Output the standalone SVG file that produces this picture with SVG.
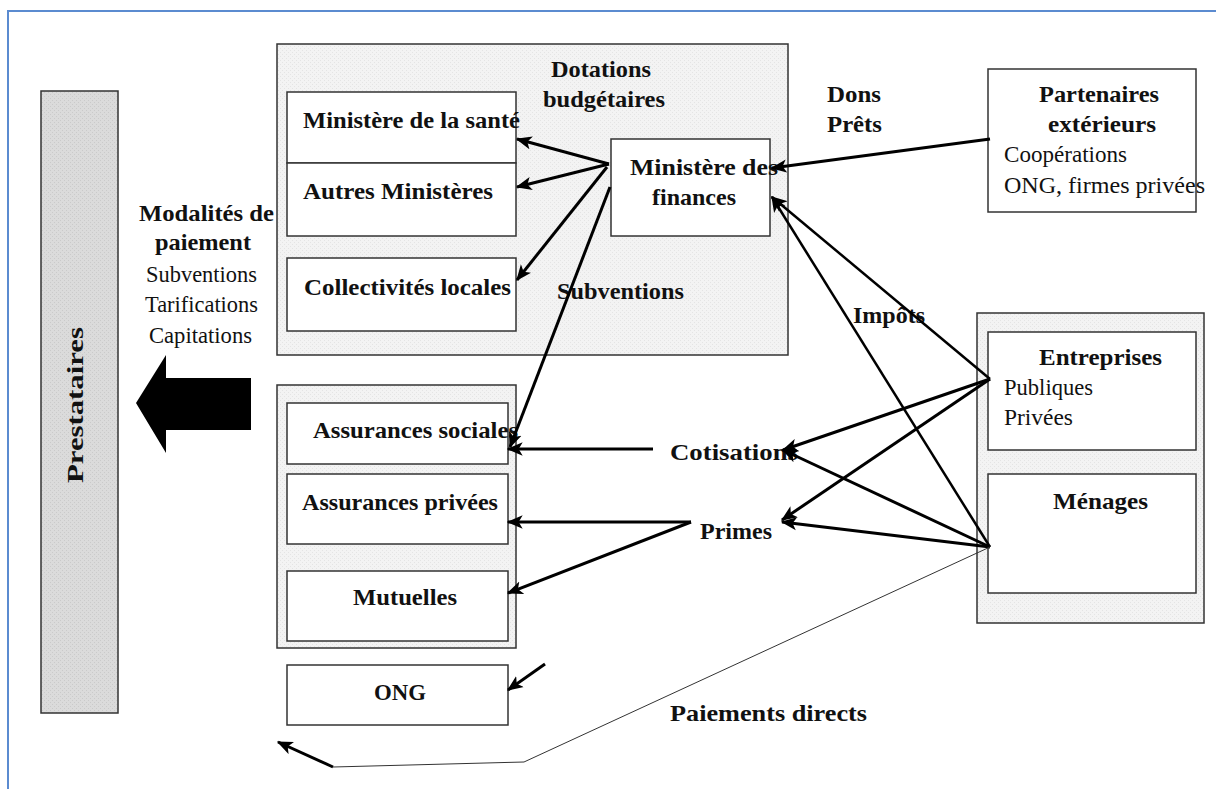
<svg xmlns="http://www.w3.org/2000/svg" width="1216" height="789" viewBox="0 0 1216 789">
<defs>
<marker id="ah" viewBox="0 0 12 10" refX="11" refY="5" markerWidth="16" markerHeight="14" markerUnits="userSpaceOnUse" orient="auto">
<path d="M0,0 L12,5 L0,10 L3,5 z" fill="#000"/>
</marker>
<pattern id="dots" width="4" height="4" patternUnits="userSpaceOnUse">
<rect width="4" height="4" fill="#f3f3f3"/>
<rect width="1" height="1" fill="#e4e4e4"/>
<rect x="2" y="2" width="1" height="1" fill="#e4e4e4"/>
</pattern>
<pattern id="dots2" width="4" height="4" patternUnits="userSpaceOnUse">
<rect width="4" height="4" fill="#dbdbdb"/>
<rect width="1" height="1" fill="#cacaca"/>
<rect x="2" y="2" width="1" height="1" fill="#cacaca"/>
</pattern>
</defs>
<style>
.grp{fill:url(#dots);stroke:#333;stroke-width:1.5}
.box{fill:#fff;stroke:#333;stroke-width:1.5}
.b{font-family:"Liberation Serif","Times New Roman",serif;font-weight:bold;font-size:23px;fill:#111}
.r{font-family:"Liberation Serif","Times New Roman",serif;font-size:23px;fill:#111}
.a{stroke:#000;stroke-width:3;fill:none;marker-end:url(#ah)}
.a2{stroke:#000;stroke-width:2.5;fill:none;marker-end:url(#ah)}
.thin{stroke:#333;stroke-width:1;fill:none}
</style>
<rect width="1216" height="789" fill="#fff"/>
<path d="M8,789 V11 H1216" fill="none" stroke="#5b8bd0" stroke-width="2"/>

<g id="prestataires">
<rect x="41" y="91" width="77" height="622" fill="url(#dots2)" stroke="#333" stroke-width="1.5"/>
<text class="b" transform="translate(83,483) rotate(-90)" font-size="27" textLength="156" lengthAdjust="spacingAndGlyphs">Prestataires</text>
</g>

<g id="big-arrow">
<polygon points="251,378 166,378 166,355 136,403 166,453 166,430 251,430" fill="#000"/>
</g>

<g id="modalites">
<text class="b" x="139" y="221" textLength="135" lengthAdjust="spacingAndGlyphs">Modalités de</text>
<text class="b" x="155" y="250" textLength="96" lengthAdjust="spacingAndGlyphs">paiement</text>
<text class="r" x="146" y="282" textLength="111" lengthAdjust="spacingAndGlyphs">Subventions</text>
<text class="r" x="145" y="312" textLength="113" lengthAdjust="spacingAndGlyphs">Tarifications</text>
<text class="r" x="149" y="343" textLength="103" lengthAdjust="spacingAndGlyphs">Capitations</text>
</g>

<g id="etat">
<rect class="grp" x="277" y="44" width="511" height="311"/>
<text class="b" x="551" y="77" textLength="100" lengthAdjust="spacingAndGlyphs">Dotations</text>
<text class="b" x="543" y="107" textLength="122" lengthAdjust="spacingAndGlyphs">budgétaires</text>
</g>
<g id="ministere-sante">
<rect class="box" x="287" y="92" width="229" height="71"/>
<text class="b" x="303" y="128" textLength="217" lengthAdjust="spacingAndGlyphs">Ministère de la santé</text>
</g>
<g id="autres-ministeres">
<rect class="box" x="287" y="163" width="229" height="73"/>
<text class="b" x="303" y="199" textLength="190" lengthAdjust="spacingAndGlyphs">Autres Ministères</text>
</g>
<g id="collectivites">
<rect class="box" x="287" y="258" width="229" height="73"/>
<text class="b" x="304" y="295" textLength="207" lengthAdjust="spacingAndGlyphs">Collectivités locales</text>
</g>
<g id="ministere-finances">
<rect class="box" x="611" y="139" width="159" height="97"/>
<text class="b" x="630" y="175" textLength="148" lengthAdjust="spacingAndGlyphs">Ministère des</text>
<text class="b" x="652" y="205" textLength="84" lengthAdjust="spacingAndGlyphs">finances</text>
</g>

<g id="partenaires">
<rect class="box" x="988" y="69" width="208" height="143"/>
<text class="b" x="1039" y="102" textLength="120" lengthAdjust="spacingAndGlyphs">Partenaires</text>
<text class="b" x="1048" y="132" textLength="108" lengthAdjust="spacingAndGlyphs">extérieurs</text>
<text class="r" x="1004" y="162" textLength="123" lengthAdjust="spacingAndGlyphs">Coopérations</text>
<text class="r" x="1004" y="193" textLength="201" lengthAdjust="spacingAndGlyphs">ONG, firmes privées</text>
</g>

<g id="menages-entreprises">
<rect class="grp" x="977" y="313" width="227" height="310"/>
</g>
<g id="entreprises">
<rect class="box" x="988" y="332" width="208" height="118"/>
<text class="b" x="1039" y="365" textLength="123" lengthAdjust="spacingAndGlyphs">Entreprises</text>
<text class="r" x="1004" y="395" textLength="89" lengthAdjust="spacingAndGlyphs">Publiques</text>
<text class="r" x="1004" y="425" textLength="69" lengthAdjust="spacingAndGlyphs">Privées</text>
</g>
<g id="menages">
<rect class="box" x="988" y="474" width="208" height="119"/>
<text class="b" x="1053" y="509" textLength="95" lengthAdjust="spacingAndGlyphs">Ménages</text>
</g>

<g id="assurances">
<rect class="grp" x="277" y="385" width="239" height="263"/>
</g>
<g id="assurances-sociales">
<rect class="box" x="287" y="403" width="221" height="61"/>
<text class="b" x="313" y="438" textLength="205" lengthAdjust="spacingAndGlyphs">Assurances sociales</text>
</g>
<g id="assurances-privees">
<rect class="box" x="287" y="474" width="221" height="70"/>
<text class="b" x="302" y="510" textLength="196" lengthAdjust="spacingAndGlyphs">Assurances privées</text>
</g>
<g id="mutuelles">
<rect class="box" x="287" y="571" width="221" height="70"/>
<text class="b" x="353" y="605" textLength="104" lengthAdjust="spacingAndGlyphs">Mutuelles</text>
</g>
<g id="ong">
<rect class="box" x="287" y="665" width="221" height="60"/>
<text class="b" x="374" y="700" textLength="52" lengthAdjust="spacingAndGlyphs">ONG</text>
</g>

<g id="labels">
<text class="b" x="557" y="299" textLength="127" lengthAdjust="spacingAndGlyphs">Subventions</text>
<text class="b" x="827" y="102" textLength="54" lengthAdjust="spacingAndGlyphs">Dons</text>
<text class="b" x="827" y="132" textLength="55" lengthAdjust="spacingAndGlyphs">Prêts</text>
<text class="b" x="853" y="323" textLength="72" lengthAdjust="spacingAndGlyphs">Impôts</text>
<text class="b" x="670" y="460" textLength="128" lengthAdjust="spacingAndGlyphs">Cotisations</text>
<text class="b" x="700" y="539" textLength="72" lengthAdjust="spacingAndGlyphs">Primes</text>
<text class="b" x="670" y="721" textLength="197" lengthAdjust="spacingAndGlyphs">Paiements directs</text>
</g>

<g id="connectors">
<line class="a" x1="990" y1="139" x2="772" y2="168"/>
<line class="a" x1="609" y1="164" x2="517" y2="139"/>
<line class="a" x1="609" y1="164" x2="517" y2="187"/>
<line class="a" x1="607" y1="167" x2="517" y2="280"/>
<line class="a" x1="610" y1="187" x2="510" y2="447"/>
<line class="a" x1="653" y1="449" x2="508" y2="449"/>
<line class="a" x1="691" y1="522" x2="508" y2="522"/>
<line class="a" x1="691" y1="522" x2="508" y2="593"/>
<line class="a" x1="990" y1="379" x2="783" y2="450"/>
<line class="a" x1="990" y1="379" x2="782" y2="520"/>
<line class="a" x1="990" y1="547" x2="783" y2="450"/>
<line class="a" x1="990" y1="547" x2="782" y2="522"/>
<line class="a2" x1="990" y1="379" x2="772" y2="197"/>
<line class="a2" x1="990" y1="547" x2="772" y2="197"/>
<line class="a" x1="545" y1="664" x2="508" y2="690"/>
<polyline class="thin" points="990,547 524,762 333,767"/>
<line class="a" x1="333" y1="767" x2="278" y2="742"/>
</g>
</svg>
